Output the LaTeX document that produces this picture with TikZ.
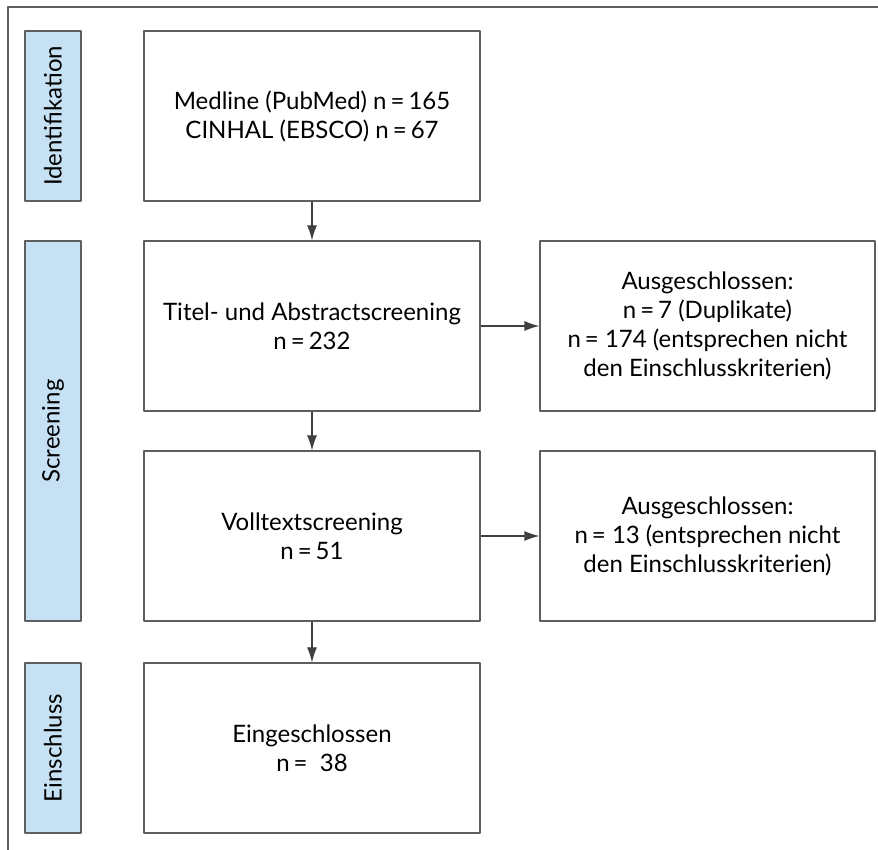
\documentclass[tikz,border=0pt]{standalone}
\usepackage{fontspec}
\setmainfont{Lato}
\usepackage{tikz}
\usetikzlibrary{positioning,arrows.meta}

\definecolor{barblue}{HTML}{C6E1F3}
\definecolor{linegray}{HTML}{5E5E5E}
\definecolor{arrowgray}{HTML}{404040}

\begin{document}
\begin{tikzpicture}[>={Latex[length=15bp,width=10bp]},line join=bevel,
  stage/.style={draw=linegray,line width=1.2bp,fill=white,minimum width=336bp,minimum height=170bp,inner sep=0pt,align=center,font=\fontsize{24bp}{29bp}\selectfont},
  excl/.style={stage,minimum width=335bp},
  phase/.style={draw=linegray,line width=1.2bp,fill=barblue,minimum width=56bp,inner sep=0pt,font=\fontsize{24bp}{28bp}\selectfont},
  flow/.style={arrowgray,line width=1.2bp,->}]
\useasboundingbox (0bp,0bp) rectangle (878bp,850bp);
%%
\draw [linegray,line width=2bp] (8bp,0bp) -- (8bp,843bp) -- (878bp,843bp);
%%
\node (identifikation) at (53bp,734bp) [phase,minimum height=170bp] {\rotatebox{90}{Identifikation}};
  \node (screening) at (53bp,419bp) [phase,minimum height=380bp] {\rotatebox{90}{Screening}};
  \node (einschluss) at (53bp,102bp) [phase,minimum height=170bp] {\rotatebox{90}{Einschluss}};
%%
\node (datenbanken) at (312bp,734bp) [stage] {Medline (PubMed) n\,=\,165\\CINHAL (EBSCO) n\,=\,67};
  \node (titelscreening) at (312bp,524bp) [stage] {Titel- und Abstractscreening\\n\,=\,232};
  \node (volltextscreening) at (312bp,314bp) [stage] {Volltextscreening\\n\,=\,51};
  \node (eingeschlossen) at (312bp,102bp) [stage] {Eingeschlossen\\n\,= \ 38};
  \node (ausgeschlossen1) at (707.5bp,524bp) [excl] {Ausgeschlossen:\\n\,=\,7 (Duplikate)\\n\,= 174 (entsprechen nicht\\den Einschlusskriterien)};
  \node (ausgeschlossen2) at (707.5bp,314bp) [excl] {Ausgeschlossen:\\n\,= 13 (entsprechen nicht\\den Einschlusskriterien)};
%%
\draw [flow] (datenbanken) -- (titelscreening);
  \draw [flow] (titelscreening) -- (volltextscreening);
  \draw [flow] (volltextscreening) -- (eingeschlossen);
  \draw [flow] (titelscreening) -- (ausgeschlossen1);
  \draw [flow] (volltextscreening) -- (ausgeschlossen2);
%
\end{tikzpicture}
\end{document}
